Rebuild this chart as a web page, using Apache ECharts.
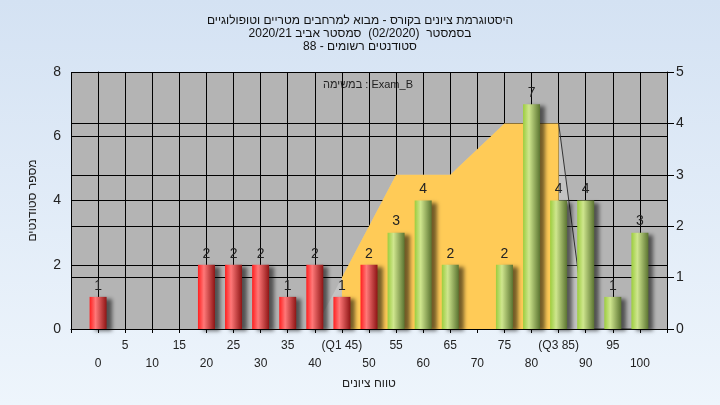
<!DOCTYPE html>
<html>
<head>
<meta charset="utf-8">
<script src="https://cdn.jsdelivr.net/npm/echarts@6/dist/echarts.min.js"></script>
<style>
html,body{margin:0;padding:0;}
#c{width:720px;height:405px;}
</style>
</head>
<body>
<div id="c"></div>
<script>
// Data
var scores = [0,5,10,15,20,25,30,35,40,45,50,55,60,65,70,75,80,85,90,95,100];
var counts = [1,0,0,0,2,2,2,1,2,1,2,3,4,2,0,2,7,4,4,1,3];
var q1 = 45, q3 = 85;
var curveX = [40,45,55,65,75,85,90];
var curveY = [0,1,3,3,4,4,0];
var quartX = [45,55,65,75,85];
var quartY = [1,3,3,4,4];
var tailX = [85,90,100];
var tailY = [4,0,0];
var titleLines = [
  'היסטוגרמת ציונים בקורס - מבוא למרחבים מטריים וטופולוגיים',
  'בסמסטר  (02/2020)  סמסטר אביב 2020/21',
  'סטודנטים רשומים - 88'
];
var legendText = 'במשימה : Exam_B';
var yLeftName = 'מספר סטודנטים';
var xName = 'טווח ציונים';

var FONT = 'Liberation Sans, Arial, DejaVu Sans, sans-serif';

function pairs(xs, ys){ return xs.map(function(x,i){ return [x, ys[i]]; }); }

var redGrad = new echarts.graphic.LinearGradient(0,0,1,0,[
  {offset:0,color:'#ff1f1f'},{offset:0.35,color:'#ff7878'},{offset:1,color:'#8e1515'}]);
var greenGrad = new echarts.graphic.LinearGradient(0,0,1,0,[
  {offset:0,color:'#9ccd3e'},{offset:0.35,color:'#cfe68e'},{offset:1,color:'#5b7431'}]);

var barData = scores.map(function(s,i){
  return {value:[s, counts[i]], itemStyle:{color: s <= 50 ? redGrad : greenGrad}};
});

var chart = echarts.init(document.getElementById('c'), null, {renderer:'canvas'});
chart.setOption({
  animation:false,
  backgroundColor: new echarts.graphic.LinearGradient(0,0,0,1,[
    {offset:0,color:'#d4e2f3'},{offset:1,color:'#eef5fc'}]),
  title:{
    text: titleLines.join('\n'),
    left:'center', top:9,
    textStyle:{fontFamily:FONT,fontSize:12,fontWeight:'normal',color:'#111',lineHeight:13}
  },
  graphic:[{
    type:'text', left: 323, top: 79,
    style:{text: legendText, fontFamily:FONT, fontSize:11, fill:'#222'}
  }],
  grid:{left:71,right:53,top:72,bottom:76,show:true,backgroundColor:'#b4b4b4',borderWidth:0,containLabel:false,outerBoundsMode:'none'},
  xAxis:{
    type:'value', min:-5, max:105, interval:5,
    name: xName, nameLocation:'middle', nameGap:46,
    nameTextStyle:{fontFamily:FONT,fontSize:12,color:'#222'},
    axisLine:{show:true,lineStyle:{color:'#000',width:1}},
    axisTick:{show:true,length:4,lineStyle:{color:'#000'}},
    splitLine:{show:true,lineStyle:{color:'#000',width:1}},
    axisLabel:{
      fontFamily:FONT,fontSize:12,color:'#222',margin:8,lineHeight:18,
      formatter:function(v){
        if (v < 0 || v > 100) return '';
        var t = String(v);
        if (v === q1) t = '(Q1 ' + v + ')';
        if (v === q3) t = '(Q3 ' + v + ')';
        return (v % 10 === 0) ? '\n' + t : t;
      }
    }
  },
  yAxis:[{
    type:'value', min:0, max:8, interval:2, position:'left',
    name: yLeftName, nameLocation:'middle', nameGap:32, nameRotate:90,
    nameTextStyle:{fontFamily:FONT,fontSize:12,color:'#222'},
    axisLine:{show:true,lineStyle:{color:'#000'}},
    axisTick:{show:true,length:7,lineStyle:{color:'#000'}},
    splitLine:{show:true,lineStyle:{color:'#000',width:1}},
    axisLabel:{fontFamily:FONT,fontSize:14,color:'#222',margin:10}
  },{
    type:'value', min:0, max:5, interval:1, position:'right',
    axisLine:{show:true,lineStyle:{color:'#000'}},
    axisTick:{show:true,length:7,lineStyle:{color:'#000'}},
    splitLine:{show:true,lineStyle:{color:'#000',width:1}},
    axisLabel:{fontFamily:FONT,fontSize:14,color:'#222',margin:9}
  }],
  series:[{
    type:'line', yAxisIndex:1, z:1, symbol:'none', silent:true,
    data: pairs(curveX, curveY),
    lineStyle:{width:0},
    areaStyle:{color:'rgba(255,255,255,0.2)', opacity:1}
  },{
    type:'line', yAxisIndex:1, z:1, symbol:'none', silent:true,
    data: pairs(quartX, quartY),
    lineStyle:{width:0},
    areaStyle:{color:'#ffcb57', opacity:1}
  },{
    type:'line', yAxisIndex:1, z:1, symbol:'none', silent:true,
    data: pairs(tailX, tailY),
    lineStyle:{width:1,color:'#333'}
  },{
    type:'bar', yAxisIndex:0, z:3, barWidth:17,
    data: barData,
    itemStyle:{shadowBlur:4,shadowOffsetX:5,shadowOffsetY:2,shadowColor:'rgba(0,0,0,0.55)'},
    label:{show:true,position:'top',distance:4,fontFamily:FONT,fontSize:14,color:'#222',
      formatter:function(p){ return p.value[1] ? String(p.value[1]) : ''; }}
  }]
});
</script>
</body>
</html>
